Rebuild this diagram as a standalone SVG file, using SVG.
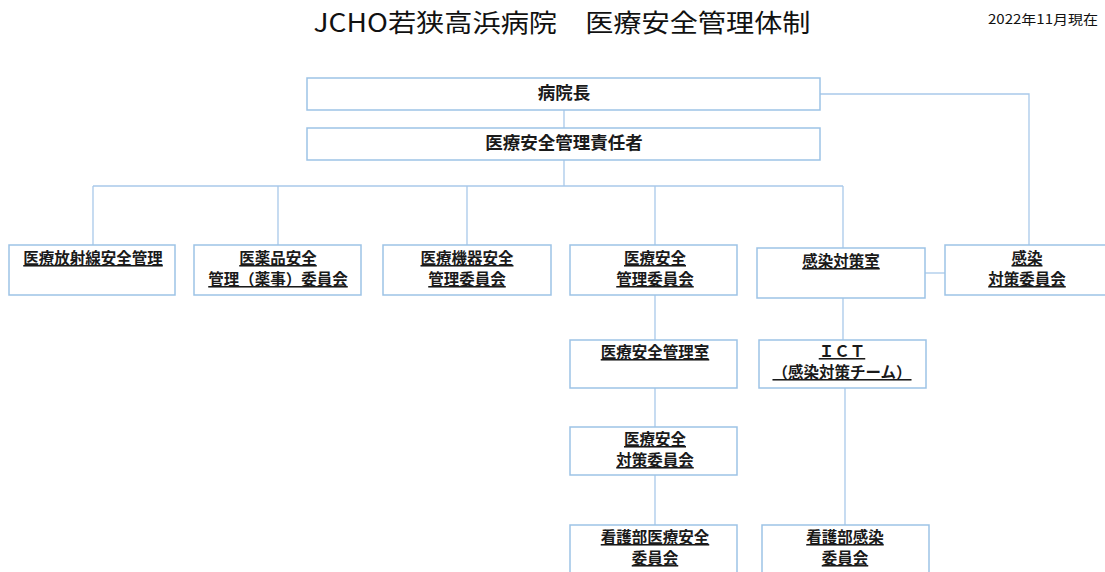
<svg xmlns="http://www.w3.org/2000/svg" width="1105" height="572" viewBox="0 0 1105 572">
<style>
.bg{fill:#ffffff}
.box{fill:#ffffff;stroke:#9dc3e6;stroke-width:1.5}
.ln{fill:none;stroke:#a9c9ea;stroke-width:1.3}
.t{font-family:"Noto Sans CJK JP","Noto Sans",sans-serif;font-weight:bold;font-size:15.5px;fill:#1a1a1a;text-anchor:middle;text-decoration:underline}
.tb{font-size:17.5px;text-decoration:none}
.title{font-family:"Noto Sans CJK JP","Noto Sans",sans-serif;font-size:25px;fill:#111;text-anchor:middle}
.date{font-family:"Noto Sans CJK JP","Noto Sans",sans-serif;font-size:13px;fill:#111}
</style>
<rect class="bg" x="0" y="0" width="1105" height="572"/>
<text class="title" x="562" y="32" textLength="497" lengthAdjust="spacingAndGlyphs">JCHO若狭高浜病院　医療安全管理体制</text>
<text class="date" x="988" y="24" textLength="110" lengthAdjust="spacingAndGlyphs">2022年11月現在</text>
<g id="connectors">
<path class="ln" d="M564 110V128M564 160V186M93 186H843M93 186V245M278 186V245M467 186V245M655 186V245M843 186V248"/>
<path class="ln" d="M820 94H1029V245"/>
<path class="ln" d="M925 273H945"/>
<path class="ln" d="M655 295V340M655 388V427M655 475V525"/>
<path class="ln" d="M843 298V340M845 388V525"/>
</g>
<g id="n-director"><rect class="box" x="307" y="78" width="513" height="32"/><text class="t tb" x="564" y="99">病院長</text></g>
<g id="n-manager"><rect class="box" x="307" y="128" width="513" height="32"/><text class="t tb" x="564" y="149">医療安全管理責任者</text></g>
<g id="n-radiation"><rect class="box" x="9" y="245" width="166" height="50"/><text class="t" x="93" y="264">医療放射線安全管理</text></g>
<g id="n-drug"><rect class="box" x="194" y="245" width="167" height="50"/><text class="t" x="278" y="264">医薬品安全</text><text class="t" x="278" y="285">管理（薬事）委員会</text></g>
<g id="n-device"><rect class="box" x="383" y="245" width="168" height="50"/><text class="t" x="467" y="264">医療機器安全</text><text class="t" x="467" y="285">管理委員会</text></g>
<g id="n-safety-committee"><rect class="box" x="570" y="245" width="167" height="50"/><text class="t" x="655" y="264">医療安全</text><text class="t" x="655" y="285">管理委員会</text></g>
<g id="n-infection-office"><rect class="box" x="757" y="248" width="168" height="50"/><text class="t" x="841" y="267">感染対策室</text></g>
<g id="n-infection-committee"><rect class="box" x="945" y="245" width="165" height="50"/><text class="t" x="1027" y="264">感染</text><text class="t" x="1027" y="285">対策委員会</text></g>
<g id="n-safety-office"><rect class="box" x="570" y="340" width="167" height="48"/><text class="t" x="655" y="358">医療安全管理室</text></g>
<g id="n-ict"><rect class="box" x="759" y="340" width="167" height="48"/><text class="t" x="842" y="357">ＩＣＴ</text><text class="t" x="842" y="378">（感染対策チーム）</text></g>
<g id="n-safety-measures"><rect class="box" x="570" y="427" width="167" height="48"/><text class="t" x="655" y="445">医療安全</text><text class="t" x="655" y="466">対策委員会</text></g>
<g id="n-nursing-safety"><rect class="box" x="570" y="525" width="167" height="52"/><text class="t" x="655" y="543">看護部医療安全</text><text class="t" x="655" y="564">委員会</text></g>
<g id="n-nursing-infection"><rect class="box" x="762" y="525" width="167" height="52"/><text class="t" x="845" y="543">看護部感染</text><text class="t" x="845" y="564">委員会</text></g>
</svg>
